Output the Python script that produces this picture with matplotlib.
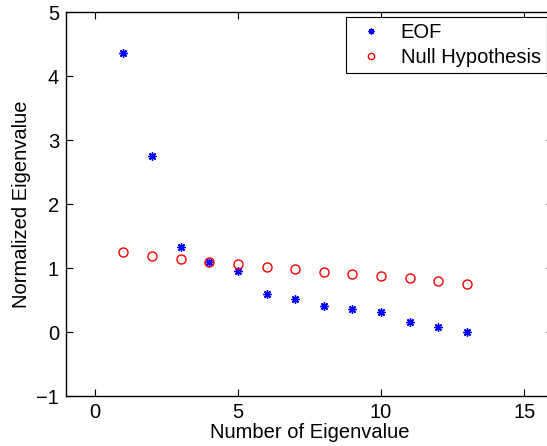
import numpy as np
import matplotlib
matplotlib.use("Agg")
import matplotlib.pyplot as plt

plt.rcParams['font.family'] = ['Liberation Sans', 'DejaVu Sans']

n_eig = np.arange(1, 14)
eof = [4.36, 2.755, 1.33, 1.094, 0.955, 0.594, 0.516, 0.40, 0.355, 0.318, 0.156, 0.075, 0.0]
null_hyp = [1.25, 1.19, 1.135, 1.094, 1.057, 1.016, 0.98, 0.943, 0.911, 0.875, 0.839, 0.802, 0.755]

fig = plt.figure(figsize=(5.47, 4.46), dpi=100)
ax = fig.add_axes([66 / 547, 50 / 446, 487 / 547, 384 / 446])

# matlab style asterisk (plus + cross)
ax.plot(n_eig, eof, linestyle='none', marker=(8, 2, 0), color='blue', markersize=6,
        markeredgewidth=1.0, label='EOF')
ax.plot(n_eig, null_hyp, linestyle='none', marker='o', markerfacecolor='none',
        markeredgecolor='red', markersize=6.5, markeredgewidth=1.0, label='Null Hypothesis')

ax.set_xlim(-1, 16)
ax.set_ylim(-1, 5)
ax.set_xticks([0, 5, 10, 15])
ax.set_yticks([-1, 0, 1, 2, 3, 4, 5])
ax.set_yticklabels(['\u22121', '0', '1', '2', '3', '4', '5'])
ax.tick_params(direction='in', top=True, right=True, labelsize=14.5, length=5, width=0.8, pad=5)
for s in ax.spines.values():
    s.set_linewidth(1.0)

ax.set_xlabel('Number of Eigenvalue', fontsize=14.5, labelpad=1)
ax.set_ylabel('Normalized Eigenvalue', fontsize=14.5, labelpad=4)

leg = ax.legend(loc='upper right', bbox_to_anchor=(0.0, 0.0, 0.9877, 0.987), borderaxespad=0,
                fontsize=14.5, fancybox=False, framealpha=1, edgecolor='black', borderpad=0.3,
                handletextpad=0.6, handlelength=1.8, labelspacing=0.3, markerscale=0.7)
leg.get_frame().set_linewidth(0.8)

fig.savefig('out.png', dpi=100)
